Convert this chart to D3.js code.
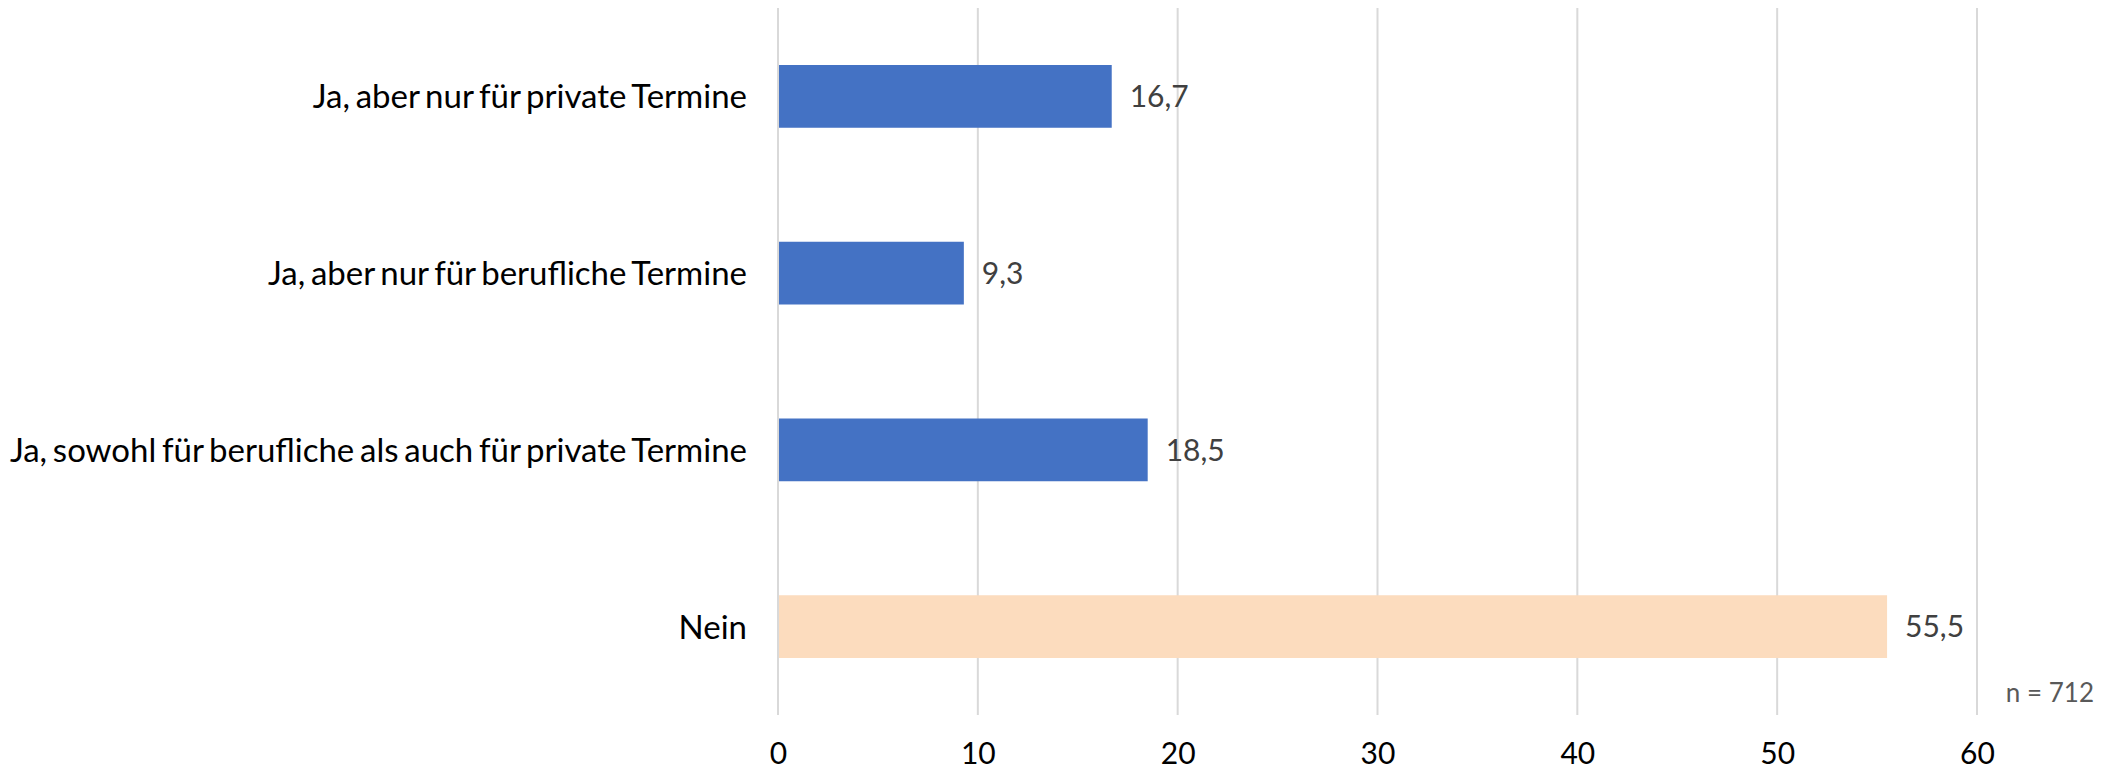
<!DOCTYPE html>
<html>
<head>
<meta charset="utf-8">
<script src="https://cdn.jsdelivr.net/npm/d3@7"></script>
<style>
  body { margin: 0; background: #fff; }
  svg { display: block; }
</style>
</head>
<body>
<div id="chart"></div>
<script>
// data
const categories = [
  'Ja, aber nur für private Termine',
  'Ja, aber nur für berufliche Termine',
  'Ja, sowohl für berufliche als auch für private Termine',
  'Nein'
];
const values = [16.7, 9.3, 18.5, 55.5];
const barColors = ['#4472c4', '#4472c4', '#4472c4', '#fcdcbe'];
const xTicks = [0, 10, 20, 30, 40, 50, 60];
const note = 'n = 712';

const width = 2110;
const height = 773;
const margin = {top: 8, right: 133, bottom: 58, left: 778};

const svg = d3.select('#chart').append('svg')
  .attr('width', width)
  .attr('height', height)
  .attr('font-family', 'Lato, sans-serif');

const x = d3.scaleLinear()
  .domain([0, 60])
  .range([margin.left, width - margin.right]);

const y = d3.scaleBand()
  .domain(categories)
  .range([margin.top, height - margin.bottom]);

const barH = y.bandwidth() * 0.355;

// vertical gridlines
svg.append('g')
  .selectAll('line')
  .data(xTicks)
  .join('line')
    .attr('x1', d => x(d))
    .attr('x2', d => x(d))
    .attr('y1', margin.top)
    .attr('y2', height - margin.bottom)
    .attr('stroke', '#d9d9d9')
    .attr('stroke-width', 2);

// bottom axis (labels only)
const xAxis = svg.append('g')
  .attr('transform', `translate(0, ${height - margin.bottom})`)
  .call(d3.axisBottom(x).tickValues(xTicks).tickSize(0).tickPadding(28))
  .call(g => g.select('.domain').remove());
xAxis.selectAll('text')
  .attr('font-family', 'Lato, sans-serif')
  .attr('font-size', 30)
  .attr('fill', '#000');

// bars
svg.append('g')
  .selectAll('rect')
  .data(values)
  .join('rect')
    .attr('x', x(0) + 1)
    .attr('y', (d, i) => y(categories[i]) + y.bandwidth() / 2 - barH / 2)
    .attr('width', d => x(d) - x(0) - 1)
    .attr('height', barH)
    .attr('fill', (d, i) => barColors[i]);

// value labels
svg.append('g')
  .selectAll('text')
  .data(values)
  .join('text')
    .attr('x', d => x(d) + 18)
    .attr('y', (d, i) => y(categories[i]) + y.bandwidth() / 2)
    .attr('dy', '0.36em')
    .attr('font-size', 30)
    .attr('fill', '#404040')
    .text(d => d.toFixed(1).replace('.', ','));

// category labels
svg.append('g')
  .selectAll('text')
  .data(categories)
  .join('text')
    .attr('x', x(0) - 31)
    .attr('y', d => y(d) + y.bandwidth() / 2)
    .attr('dy', '0.36em')
    .attr('text-anchor', 'end')
    .attr('font-size', 33)
    .attr('word-spacing', -2.7)
    .attr('fill', '#000')
    .text(d => d);

// sample size note
svg.append('text')
  .attr('x', 2094)
  .attr('y', 702)
  .attr('text-anchor', 'end')
  .attr('font-size', 26)
  .attr('fill', '#595959')
  .text(note);
</script>
</body>
</html>
